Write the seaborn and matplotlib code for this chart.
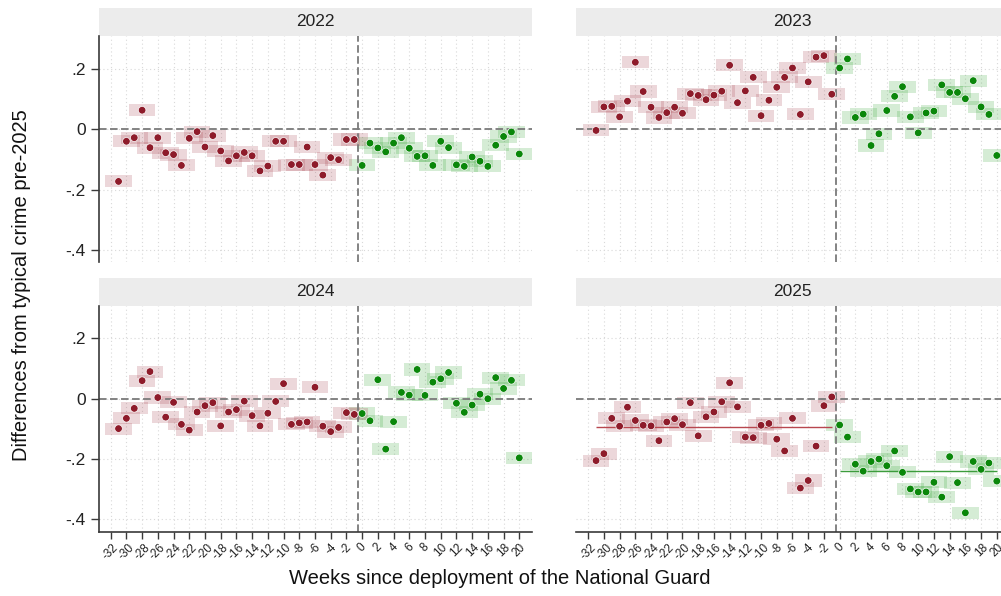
import numpy as np
import pandas as pd
import matplotlib
matplotlib.use("Agg")
import matplotlib.pyplot as plt
import seaborn as sns

# Weekly differences from typical crime (pre-2025 baseline), by year
years = [2022, 2023, 2024, 2025]
weeks_before = list(range(-31, 0))   # weeks before deployment
weeks_after = list(range(0, 21))     # weeks since deployment

before_2022 = [-0.173, -0.040, -0.028, 0.063, -0.061, -0.028, -0.078, -0.084, -0.120, -0.030,
               -0.008, -0.059, -0.021, -0.072, -0.105, -0.088, -0.077, -0.088, -0.138, -0.122,
               -0.040, -0.040, -0.117, -0.117, -0.059, -0.117, -0.152, -0.094, -0.101, -0.034,
               -0.034]
after_2022 = [-0.120, -0.046, -0.062, -0.075, -0.046, -0.028, -0.063, -0.090, -0.088, -0.120,
              -0.040, -0.061, -0.118, -0.123, -0.092, -0.106, -0.123, -0.053, -0.024, -0.009,
              -0.082]

before_2023 = [-0.004, 0.074, 0.076, 0.041, 0.093, 0.222, 0.125, 0.073, 0.039, 0.055,
               0.073, 0.053, 0.118, 0.112, 0.098, 0.113, 0.126, 0.212, 0.088, 0.127,
               0.172, 0.045, 0.096, 0.139, 0.172, 0.203, 0.049, 0.157, 0.239, 0.244,
               0.116]
after_2023 = [0.203, 0.233, 0.039, 0.050, -0.054, -0.015, 0.062, 0.109, 0.141, 0.041,
              -0.012, 0.054, 0.060, 0.147, 0.122, 0.122, 0.101, 0.161, 0.074, 0.049,
              -0.087]

before_2024 = [-0.099, -0.065, -0.032, 0.060, 0.090, 0.004, -0.061, -0.012, -0.085, -0.104,
               -0.044, -0.023, -0.013, -0.090, -0.044, -0.036, -0.008, -0.056, -0.090, -0.048,
               -0.009, 0.050, -0.085, -0.080, -0.077, 0.038, -0.091, -0.109, -0.095, -0.046,
               -0.052]
after_2024 = [-0.049, -0.073, 0.063, -0.167, -0.076, 0.021, 0.012, 0.097, 0.011, 0.055,
              0.066, 0.087, -0.015, -0.045, -0.021, 0.015, 0.000, 0.070, 0.034, 0.061,
              -0.196]

before_2025 = [-0.205, -0.182, -0.065, -0.091, -0.028, -0.072, -0.088, -0.090, -0.139, -0.077,
               -0.066, -0.086, -0.013, -0.123, -0.060, -0.044, -0.010, 0.053, -0.027, -0.127,
               -0.129, -0.088, -0.082, -0.134, -0.173, -0.065, -0.296, -0.271, -0.157, -0.023,
               0.006]
after_2025 = [-0.087, -0.127, -0.217, -0.240, -0.208, -0.200, -0.222, -0.173, -0.244, -0.299,
              -0.309, -0.309, -0.277, -0.326, -0.192, -0.278, -0.378, -0.208, -0.234, -0.213,
              -0.273]

series = {
    2022: (before_2022, after_2022),
    2023: (before_2023, after_2023),
    2024: (before_2024, after_2024),
    2025: (before_2025, after_2025),
}

x_ticks = list(range(-32, 21, 2))
y_ticks = [-0.4, -0.2, 0.0, 0.2]
y_tick_labels = ["-.4", "-.2", "0", ".2"]

rows = []
for yr in years:
    pre, post = series[yr]
    rows += [dict(year=yr, week=w, value=v, period="before") for w, v in zip(weeks_before, pre)]
    rows += [dict(year=yr, week=w, value=v, period="after") for w, v in zip(weeks_after, post)]
df = pd.DataFrame(rows)

point_colors = {"before": "#8e1b2a", "after": "#0a870a"}
box_colors = {"before": "#a33a48", "after": "#2fa12f"}
mean_colors = {"before": "#b8474f", "after": "#3c9c3c"}

sns.set_theme(style="white")
plt.rcParams["font.family"] = ["Liberation Sans", "DejaVu Sans"]

W, H = 1001, 596
fig = plt.figure(figsize=(W / 100, H / 100), dpi=100)

# panel geometry in pixels (left, top, width, height)
col_left = [98.5, 576.0]
row_top = [36.0, 305.5]
ax_w, ax_h = 433.2, 226.0
strip_h = 28.0

box_w, box_h = 3.4, 0.04
xlim = (-33.55, 21.58)
ylim = (-0.44, 0.309)
dash = (0, (4.2, 1.9))

for i, yr in enumerate(years):
    r, c = divmod(i, 2)
    left, top = col_left[c], row_top[r]
    ax = fig.add_axes([left / W, (H - top - ax_h) / H, ax_w / W, ax_h / H])
    sub = df[df["year"] == yr]

    # grid
    for xt in x_ticks:
        ax.axvline(xt, color="#d9d9d9", lw=0.8, ls=(0, (1, 2.5)), zorder=0)
    for yt in y_ticks:
        ax.axhline(yt, color="#d9d9d9", lw=0.8, ls=(0, (1, 2.5)), zorder=0)

    # shaded boxes around each weekly estimate
    for period, grp in sub.groupby("period"):
        ax.bar(grp["week"], box_h, bottom=grp["value"] - box_h / 2, width=box_w,
               color=box_colors[period], alpha=0.2, linewidth=0, zorder=1)

    ax.axhline(0, color="#7a7a7a", lw=1.3, ls=dash, zorder=2)
    ax.axvline(-0.5, color="#7a7a7a", lw=1.3, ls=dash, zorder=2)

    if yr == 2025:
        for period, grp in sub.groupby("period"):
            ax.hlines(grp["value"].mean(), grp["week"].min(), grp["week"].max(),
                      color=mean_colors[period], lw=1.0, zorder=2.5)

    sns.scatterplot(data=sub, x="week", y="value", hue="period", palette=point_colors,
                    s=30, edgecolor="white", linewidth=0.5, legend=False, ax=ax, zorder=3)

    ax.set_xlim(*xlim)
    ax.set_ylim(*ylim)
    ax.set_xlabel("")
    ax.set_ylabel("")

    for s in ["top", "right"]:
        ax.spines[s].set_visible(False)
    ax.spines["left"].set_visible(c == 0)
    ax.spines["bottom"].set_visible(r == 1)
    for s in ["left", "bottom"]:
        ax.spines[s].set_color("#3a3a3a")
        ax.spines[s].set_linewidth(1.2)

    ax.set_xticks(x_ticks)
    if r == 1:
        ax.set_xticklabels([str(t) for t in x_ticks], rotation=45, ha="center",
                           fontsize=8.5, color="#222222")
        ax.tick_params(axis="x", bottom=True, length=5, width=1.0, color="#3a3a3a", pad=2)
    else:
        ax.tick_params(axis="x", bottom=False, labelbottom=False)

    ax.set_yticks(y_ticks)
    if c == 0:
        ax.set_yticklabels(y_tick_labels, fontsize=12.5, color="#222222")
        ax.tick_params(axis="y", left=True, length=6, width=1.0, color="#3a3a3a", pad=3)
    else:
        ax.tick_params(axis="y", left=False, labelleft=False)

    # facet header
    ax.add_patch(plt.Rectangle((0, 1), 1, strip_h / ax_h, transform=ax.transAxes,
                               facecolor="#ececec", edgecolor="none", clip_on=False, zorder=0))
    ax.text(0.5, 1 + strip_h / ax_h / 2, str(yr), transform=ax.transAxes,
            ha="center", va="center", fontsize=12.5, color="#222222")

fig.text(500 / W, 1 - 578 / H, "Weeks since deployment of the National Guard",
         ha="center", va="center", fontsize=14.5, color="#111111")
fig.text(22 / W, 1 - 285 / H, "Differences from typical crime pre-2025",
         ha="center", va="center", rotation=90, fontsize=14.5, color="#111111")

fig.savefig("out.png", dpi=100)
